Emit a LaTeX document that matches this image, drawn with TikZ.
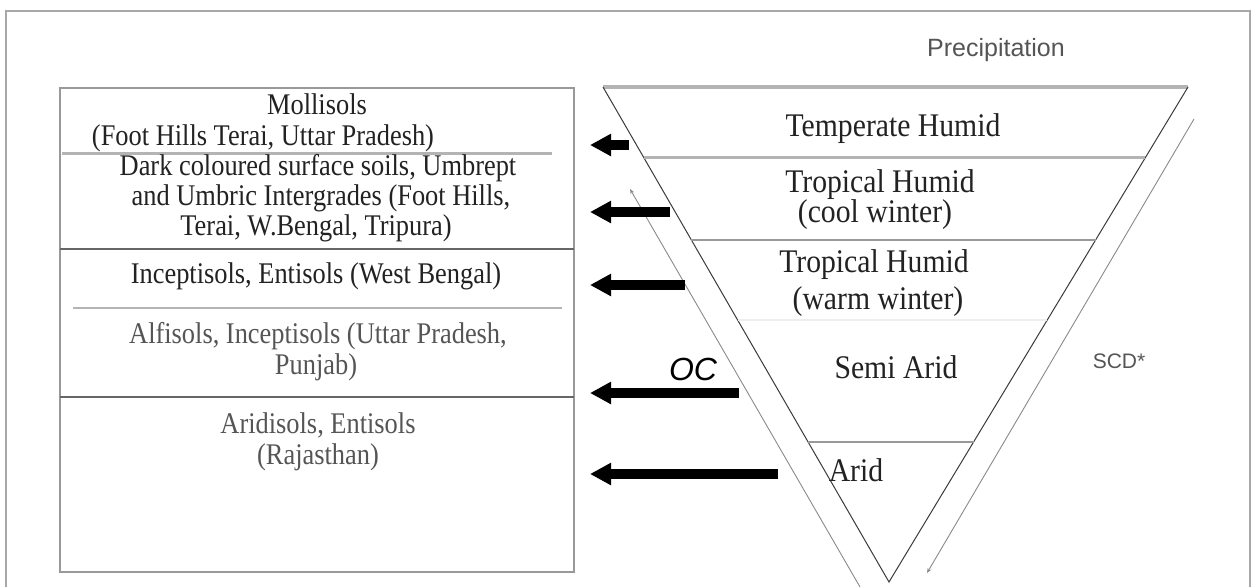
\documentclass[tikz,border=0pt]{standalone}
\usepackage{fontspec}
\setmainfont{Liberation Serif}
\newfontfamily\soilfont[FakeStretch=0.88]{Liberation Serif}
\newfontfamily\climfont[FakeStretch=0.9]{Liberation Serif}
\newfontfamily\labelfont{Liberation Sans}
\usetikzlibrary{arrows.meta,calc}
\definecolor{framegray}{HTML}{A8A8A8}
\definecolor{boxgray}{HTML}{999999}
\definecolor{darkline}{HTML}{666666}
\definecolor{lightline}{HTML}{B4B4B4}
\definecolor{fainline}{HTML}{EEEEEE}
\definecolor{textdark}{HTML}{222222}
\definecolor{textmid}{HTML}{555555}
\definecolor{sidegray}{HTML}{3A3A3A}
\definecolor{outergray}{HTML}{8A8A8A}
\begin{document}
\begin{tikzpicture}[x=1pt,y=-1pt,
  framestyle/.style={draw=framegray,line width=2.2pt},
  boxstyle/.style={draw=boxgray,line width=1.5pt},
  soiltext/.style={font=\soilfont\fontsize{30}{30}\selectfont,text=textdark,anchor=base,inner sep=0pt},
  soiltextl/.style={soiltext,text=textmid},
  climtext/.style={font=\climfont\fontsize{33}{33}\selectfont,text=textdark,anchor=base,inner sep=0pt},
  bigarrow/.style={draw=black,line width=10pt,-{Triangle[length=21pt,width=21pt]}},
  thinarrow/.style={draw=outergray,line width=0.9pt,-{Stealth[length=5pt,width=4pt]}},
  sideline/.style={draw=sidegray,line width=1pt},
]
\useasboundingbox (0,0) rectangle (1259,587);
% outer frame
\coordinate (f1) at (6,587);
\coordinate (f2) at (6,11);
\coordinate (f3) at (1250,11);
\coordinate (f4) at (1250,587);
\draw[framestyle] (f1) -- (f2) -- (f3) -- (f4);

% left box
\coordinate (bnw) at (60,88);
\coordinate (bse) at (574,572);
\draw[boxstyle] (bnw) rectangle (bse);
\coordinate (l1a) at (62,153);  \coordinate (l1b) at (552,153);
\coordinate (l2a) at (60,249);  \coordinate (l2b) at (574,249);
\coordinate (l3a) at (73,308);  \coordinate (l3b) at (562,308);
\coordinate (l4a) at (60,397);  \coordinate (l4b) at (574,397);
\draw[draw=lightline,line width=3pt] (l1a) -- (l1b);
\draw[draw=darkline,line width=2pt] (l2a) -- (l2b);
\draw[draw=lightline,line width=2pt] (l3a) -- (l3b);
\draw[draw=darkline,line width=2.5pt] (l4a) -- (l4b);

% left texts
\node[soiltext] (mol1) at (317,114) {Mollisols};
\node[soiltext] (mol2) at (263,145) {(Foot Hills Terai, Uttar Pradesh)};
\node[soiltext] (dk1) at (318,175) {Dark coloured surface soils, Umbrept};
\node[soiltext] (dk2) at (321,205) {and Umbric Intergrades (Foot Hills,};
\node[soiltext] (dk3) at (316,235) {Terai, W.Bengal, Tripura)};
\node[soiltext] (inc) at (316,283) {Inceptisols, Entisols (West Bengal)};
\node[soiltextl] (alf1) at (318,343) {Alfisols, Inceptisols (Uttar Pradesh,};
\node[soiltextl] (alf2) at (316,374) {Punjab)};
\node[soiltextl] (ari1) at (318,433) {Aridisols, Entisols};
\node[soiltextl] (ari2) at (318,464) {(Rajasthan)};

% triangle
\coordinate (tl) at (603,87);
\coordinate (tr) at (1188,87);
\coordinate (ap) at (889,582);
\draw[draw=lightline,line width=4pt] (tl) -- (tr);
\draw[sideline] (tl) -- (ap) -- (tr);
\coordinate (h1a) at ($(tl)!0.1434!(ap)$); \coordinate (h1b) at ($(tr)!0.1434!(ap)$);
\coordinate (h2a) at ($(tl)!0.309!(ap)$);  \coordinate (h2b) at ($(tr)!0.309!(ap)$);
\coordinate (h3a) at ($(tl)!0.4707!(ap)$); \coordinate (h3b) at ($(tr)!0.4707!(ap)$);
\coordinate (h4a) at ($(tl)!0.7172!(ap)$); \coordinate (h4b) at ($(tr)!0.7172!(ap)$);
\draw[draw=lightline,line width=3pt] (h1a) -- (h1b);
\draw[draw=boxgray,line width=2.5pt] (h2a) -- (h2b);
\draw[draw=fainline,line width=1.5pt] (h3a) -- (h3b);
\draw[draw=boxgray,line width=2pt] (h4a) -- (h4b);

% climate texts
\node[climtext] (tem) at (893,136) {Temperate Humid};
\node[climtext] (th1) at (880,192) {Tropical Humid};
\node[climtext] (th1b) at (875,222) {(cool winter)};
\node[climtext] (th2) at (874,272) {Tropical Humid};
\node[climtext] (th2b) at (878,309) {(warm winter)};
\node[climtext] (sem) at (896,378) {Semi Arid};
\node[climtext] (ari) at (856,481) {Arid};

% labels
\node[font=\labelfont\fontsize{25}{25}\selectfont,text=textmid,anchor=base,inner sep=0pt] (prec) at (996,56) {Precipitation};
\node[font=\labelfont\itshape\fontsize{32}{32}\selectfont,text=black,anchor=base,inner sep=0pt] (oc) at (693,380) {OC};
\node[font=\labelfont\fontsize{21}{21}\selectfont,text=textmid,anchor=base,inner sep=0pt] (scd) at (1119,368) {SCD*};

% outer thin arrows
\coordinate (oca) at (860,587);
\coordinate (ocb) at (630,189);
\draw[thinarrow] (oca) -- (ocb);
\coordinate (sca) at (1194,119);
\coordinate (scb) at (927,573);
\draw[thinarrow] (sca) -- (scb);

% thick arrows
\coordinate (a1t) at (629,145); \coordinate (a1h) at (590,145);
\coordinate (a2t) at (670,212); \coordinate (a2h) at (590,212);
\coordinate (a3t) at (685,285); \coordinate (a3h) at (590,285);
\coordinate (a4t) at (739,393); \coordinate (a4h) at (590,393);
\coordinate (a5t) at (778,474); \coordinate (a5h) at (590,474);
\draw[bigarrow] (a1t) -- (a1h);
\draw[bigarrow] (a2t) -- (a2h);
\draw[bigarrow] (a3t) -- (a3h);
\draw[bigarrow] (a4t) -- (a4h);
\draw[bigarrow] (a5t) -- (a5h);
\end{tikzpicture}
\end{document}
